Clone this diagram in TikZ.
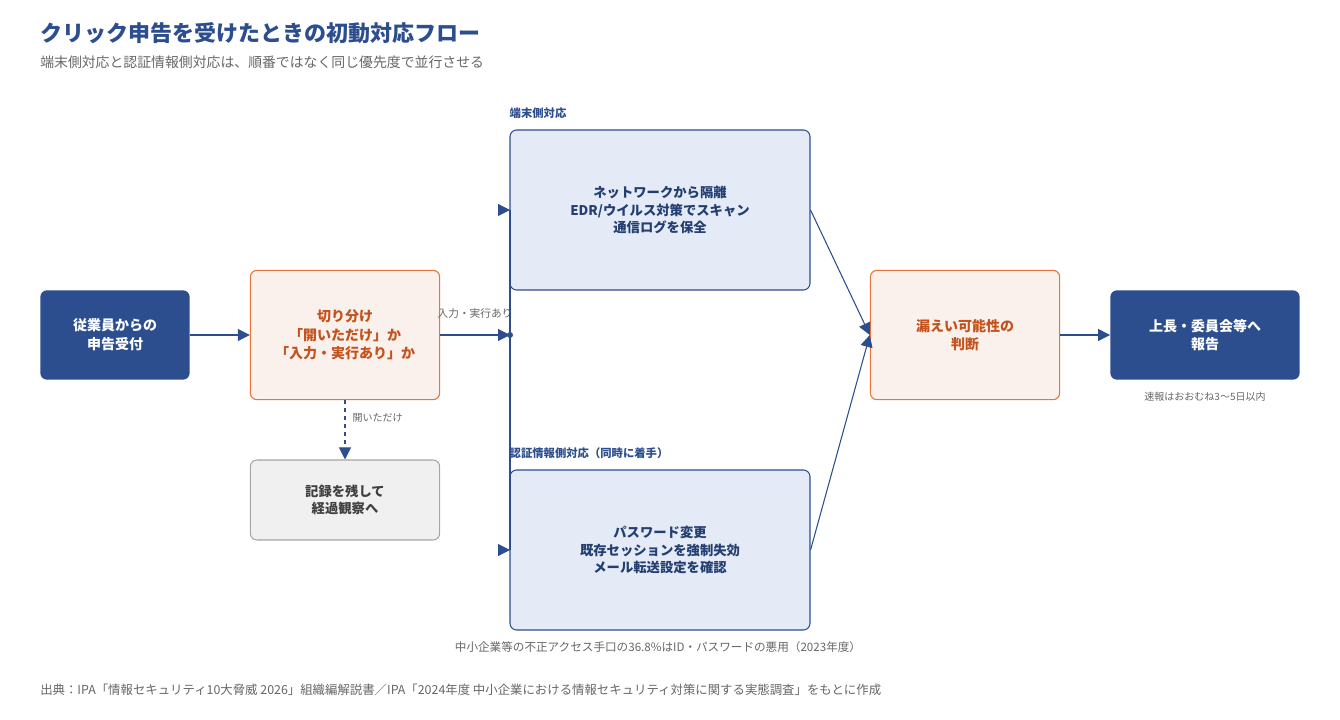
\documentclass[tikz,border=0pt]{standalone}
\usepackage{fontspec}
\setmainfont{Noto Sans CJK JP}
\usetikzlibrary{arrows.meta}
\definecolor{navy}{HTML}{2D4E8E}
\definecolor{lightblue}{HTML}{E4EBF6}
\definecolor{orng}{HTML}{E8743B}
\definecolor{orngtext}{HTML}{C4521C}
\definecolor{peach}{HTML}{FBF1EC}
\definecolor{greytext}{HTML}{666666}
\tikzset{
    dark-box/.style = {draw=none, fill=navy, text=white, rounded corners=5pt, font=\bfseries\fontsize{10.5}{14}\selectfont, align=center},
    judge-box/.style = {draw=orng, fill=peach, text=orngtext, thick, rounded corners=5pt, font=\bfseries\fontsize{10.5}{14}\selectfont, align=center},
    act-box/.style = {draw=navy, fill=lightblue, text=navy!80!black, thick, rounded corners=5pt, font=\bfseries\fontsize{10}{13}\selectfont, align=center},
    grey-box/.style = {draw=gray!70, fill=gray!12, text=black!75, thick, rounded corners=5pt, font=\bfseries\fontsize{10}{13}\selectfont, align=center},
    flow/.style = {draw=navy, thick, -{Triangle[length=9pt,width=9pt]}},
    small-note/.style = {text=greytext, font=\fontsize{7.5}{9}\selectfont},
}
\begin{document}
\begin{tikzpicture}[x=0.75pt,y=-0.75pt]
\useasboundingbox (0,0) rectangle (1340,720);
% titles
\node[anchor=west, inner sep=0pt, text=navy, font=\bfseries\fontsize{16.5}{20}\selectfont] (title) at (40,33) {クリック申告を受けたときの初動対応フロー};
\node[anchor=west, inner sep=0pt, small-note, font=\fontsize{10.4}{12}\selectfont] (subtitle) at (40,62) {端末側対応と認証情報側対応は、順番ではなく同じ優先度で並行させる};
% boxes
\node[dark-box, minimum width=112pt, minimum height=67pt] (report) at (115,335) {従業員からの\\申告受付};
\node[judge-box, minimum width=142pt, minimum height=97pt] (triage) at (345,335) {切り分け\\「開いただけ」か\\「入力・実行あり」か};
\node[grey-box, minimum width=142pt, minimum height=60pt] (watch) at (345,500) {記録を残して\\経過観察へ};
\node[act-box, minimum width=225pt, minimum height=120pt] (device) at (660,210) {ネットワークから隔離\\EDR/ウイルス対策でスキャン\\通信ログを保全};
\node[act-box, minimum width=225pt, minimum height=120pt] (cred) at (660,550) {パスワード変更\\既存セッションを強制失効\\メール転送設定を確認};
\node[judge-box, minimum width=142pt, minimum height=97pt] (leak) at (965,335) {漏えい可能性の\\判断};
\node[dark-box, minimum width=142pt, minimum height=67pt] (boss) at (1205,335) {上長・委員会等へ\\報告};
% labels
\node[anchor=south west, inner sep=0pt, yshift=8pt, text=navy, font=\bfseries\fontsize{8.5}{10}\selectfont] (devlabel) at (device.north west) {端末側対応};
\node[anchor=south west, inner sep=0pt, yshift=8pt, text=navy, font=\bfseries\fontsize{8.5}{10}\selectfont] (credlabel) at (cred.north west) {認証情報側対応（同時に着手）};
\node[small-note] (quick) at (1205,397) {速報はおおむね3〜5日以内};
\node[small-note, font=\fontsize{8.7}{10}\selectfont] (stat) at (658,647) {中小企業等の不正アクセス手口の36.8\%はID・パスワードの悪用（2023年度）};
\node[anchor=west, inner sep=0pt, small-note, font=\fontsize{9.3}{11}\selectfont] (source) at (40,690) {出典：IPA「情報セキュリティ10大脅威 2026」組織編解説書／IPA「2024年度 中小企業における情報セキュリティ対策に関する実態調査」をもとに作成};
% connectors
\coordinate (split) at (510,335);
\coordinate (uptop) at (510,210);
\coordinate (downbot) at (510,550);
\draw[flow] (report) -- (triage);
\draw[flow] (triage) -- (split);
\node[small-note, font=\fontsize{8}{10}\selectfont] (yeslabel) at (475,313) {入力・実行あり};
\fill[navy] (split) circle (3);
\draw[navy, thick] (uptop) -- (downbot);
\draw[flow] (500,210) -- (uptop);
\draw[flow] (500,550) -- (downbot);
\draw[navy, thick, dashed, -{Triangle[length=9pt,width=9pt]}] (triage) -- node[small-note, right, pos=0.3, xshift=2pt] {開いただけ} (watch);
\draw[flow] (device.east) -- (leak.west);
\draw[flow] (cred.east) -- (leak.west);
\draw[flow] (leak) -- (boss);
\end{tikzpicture}
\end{document}
